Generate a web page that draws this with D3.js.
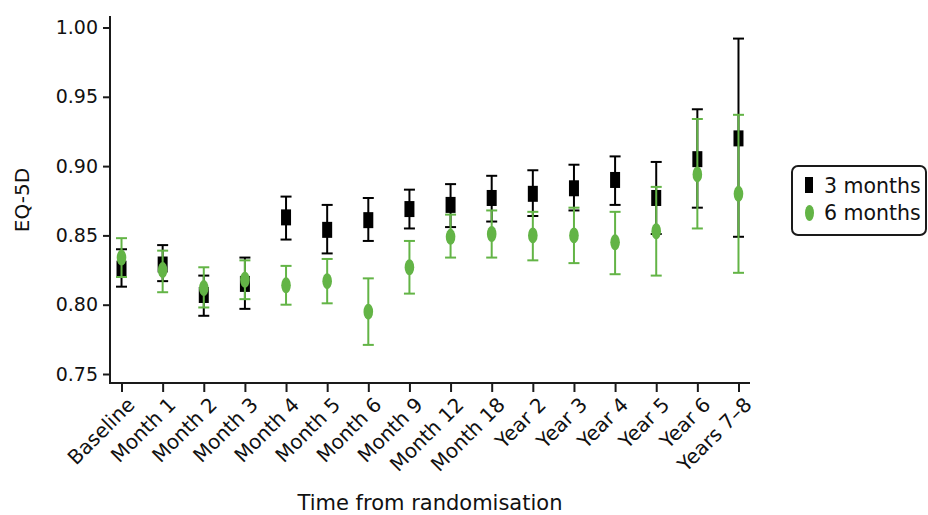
<!DOCTYPE html>
<html><head><meta charset="utf-8">
<script src="https://cdn.jsdelivr.net/npm/d3@7"></script>
<style>body{margin:0;background:#fff}svg{display:block}text{font-family:"DejaVu Sans",sans-serif;fill:#111}</style>
</head><body><svg id="c" width="928" height="515"></svg>
<script>
const categories = ["Baseline","Month 1","Month 2","Month 3","Month 4","Month 5","Month 6","Month 9","Month 12","Month 18","Year 2","Year 3","Year 4","Year 5","Year 6","Years 7–8"];
const threeMean = [0.826,0.829,0.807,0.815,0.863,0.854,0.861,0.869,0.872,0.877,0.880,0.884,0.890,0.877,0.905,0.920];
const threeLow  = [0.813,0.817,0.792,0.797,0.847,0.837,0.846,0.855,0.856,0.860,0.864,0.868,0.872,0.851,0.870,0.849];
const threeHigh = [0.840,0.843,0.821,0.834,0.878,0.872,0.877,0.883,0.887,0.893,0.897,0.901,0.907,0.903,0.941,0.992];
const sixMean = [0.834,0.825,0.812,0.818,0.814,0.817,0.795,0.827,0.849,0.851,0.850,0.850,0.845,0.853,0.894,0.880];
const sixLow  = [0.820,0.809,0.798,0.804,0.800,0.801,0.771,0.808,0.834,0.834,0.832,0.830,0.822,0.821,0.855,0.823];
const sixHigh = [0.848,0.839,0.827,0.832,0.828,0.833,0.819,0.846,0.865,0.868,0.867,0.870,0.867,0.885,0.934,0.937];
const yTicks = [0.75,0.80,0.85,0.90,0.95,1.00];
const seriesNames = ["3 months","6 months"];

const svg = d3.select("#c");
const FS = 19;
const x = d3.scalePoint().domain(categories).range([110,750]).padding(0.28);
const y = d3.scaleLinear().domain([0.75,1.0]).range([374,27.5]);
const axisColor = "#1a1a1a";
const green = "#63b446";

// Y axis
const ya = svg.append("g").attr("transform","translate(110,0)")
  .call(d3.axisLeft(y).tickValues(yTicks).tickFormat(d3.format(".2f")).tickSize(7).tickPadding(5));
ya.select(".domain").remove();
ya.selectAll(".tick line").attr("stroke",axisColor).attr("stroke-width",2);
ya.selectAll(".tick text").style("font-size",FS+"px").attr("fill","#111").attr("font-family","DejaVu Sans");
svg.append("line").attr("x1",110).attr("x2",110).attr("y1",16).attr("y2",384).attr("stroke",axisColor).attr("stroke-width",2);

// X axis
const xa = svg.append("g").attr("transform","translate(0,383)")
  .call(d3.axisBottom(x).tickSize(9).tickPadding(4));
xa.select(".domain").remove();
xa.selectAll(".tick line").attr("stroke",axisColor).attr("stroke-width",2);
xa.selectAll(".tick text").style("font-size","20px").attr("fill","#111").attr("font-family","DejaVu Sans")
  .attr("text-anchor","end").attr("transform","translate(9,18) rotate(-45)").attr("dy","0.35em").attr("y",0).attr("x",0);
svg.append("line").attr("x1",109).attr("x2",750).attr("y1",383).attr("y2",383).attr("stroke",axisColor).attr("stroke-width",2);

// Titles
svg.append("text").attr("x",430).attr("y",510).attr("text-anchor","middle").style("font-size","21px").text("Time from randomisation");
svg.append("text").attr("transform","translate(29,200) rotate(-90)").attr("text-anchor","middle").style("font-size","20px").text("EQ-5D");

function errBars(g, mean, low, high, color){
  const d = categories.map((c,i)=>({c, lo:low[i], hi:high[i], m:mean[i]}));
  g.selectAll("line.v").data(d).join("line").attr("x1",d=>x(d.c)).attr("x2",d=>x(d.c))
    .attr("y1",d=>y(d.lo)).attr("y2",d=>y(d.hi)).attr("stroke",color).attr("stroke-width",2);
  g.selectAll("line.t").data(d).join("line").attr("class","t").attr("x1",d=>x(d.c)-5.5).attr("x2",d=>x(d.c)+5.5)
    .attr("y1",d=>y(d.hi)).attr("y2",d=>y(d.hi)).attr("stroke",color).attr("stroke-width",2);
  g.selectAll("line.b").data(d).join("line").attr("class","b").attr("x1",d=>x(d.c)-5.5).attr("x2",d=>x(d.c)+5.5)
    .attr("y1",d=>y(d.lo)).attr("y2",d=>y(d.lo)).attr("stroke",color).attr("stroke-width",2);
  return d;
}
const g3 = svg.append("g");
const d3s = errBars(g3, threeMean, threeLow, threeHigh, "#000");
g3.selectAll("rect").data(d3s).join("rect").attr("x",d=>x(d.c)-5).attr("y",d=>y(d.m)-8).attr("width",10).attr("height",16).attr("fill","#000");
const g6 = svg.append("g");
const d6s = errBars(g6, sixMean, sixLow, sixHigh, green);
g6.selectAll("ellipse").data(d6s).join("ellipse").attr("cx",d=>x(d.c)).attr("cy",d=>y(d.m)).attr("rx",4.8).attr("ry",8).attr("fill",green);

// Legend
const lg = svg.append("g");
lg.append("rect").attr("x",792).attr("y",166).attr("width",134).attr("height",69).attr("rx",6).attr("fill","#fff").attr("stroke",axisColor).attr("stroke-width",2);
lg.append("rect").attr("x",805).attr("y",177).attr("width",8).attr("height",16).attr("fill","#000");
lg.append("ellipse").attr("cx",809.5).attr("cy",213).attr("rx",4.5).attr("ry",8).attr("fill",green);
lg.append("text").attr("x",824).attr("y",193).style("font-size","20.5px").text(seriesNames[0]);
lg.append("text").attr("x",824).attr("y",220).style("font-size","20.5px").text(seriesNames[1]);
</script></body></html>
